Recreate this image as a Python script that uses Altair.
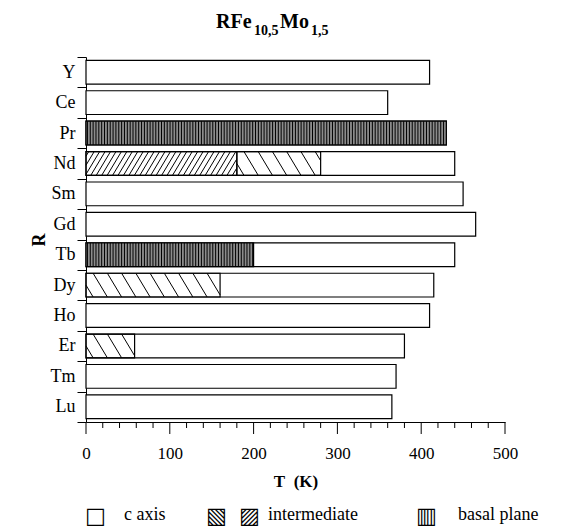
import altair as alt
import pandas as pd
import numpy as np

# ---------------- data ----------------
R_names = ["Y", "Ce", "Pr", "Nd", "Sm", "Gd", "Tb", "Dy", "Ho", "Er", "Tm", "Lu"]
T_values = [410, 360, 430, 440, 450, 465, 440, 415, 410, 380, 370, 365]

# partial segments (easy-axis type) inside the bars
seg_R = ["Pr", "Nd", "Nd", "Tb", "Dy", "Er"]
seg_start = [0, 0, 180, 0, 0, 0]
seg_end = [430, 180, 280, 200, 160, 58]
seg_kind = ["basal", "inter_fwd", "inter_back", "basal", "inter_back", "inter_back"]

x_tick_values = list(range(0, 501, 20))
x_major_values = [0, 100, 200, 300, 400, 500]

# ---------------- layout / style constants ----------------
W, H = 419, 365
HALF = 0.39          # half bar thickness in row units
SERIF = "Liberation Serif"
GLYPH = "DejaVu Sans"
# hatch style: (spacing, slant) in T units
HATCH = {"basal": (3.4, 0.0), "inter_back": (17.0, 17.0), "inter_fwd": (6.5, 17.0)}

# ---------------- tables built from the arrays ----------------
bars = pd.DataFrame({"R": R_names, "T": T_values})
bars["idx"] = range(len(R_names))
bars["top"] = bars["idx"] - HALF
bars["bot"] = bars["idx"] + HALF
bars["x0"] = 0

segs = pd.DataFrame({"R": seg_R, "a": seg_start, "b": seg_end, "kind": seg_kind})
segs["idx"] = [R_names.index(r) for r in seg_R]
segs["top"] = segs["idx"] - HALF
segs["bot"] = segs["idx"] + HALF

lines = []
for _, s in segs.iterrows():
    sp, d = HATCH[s["kind"]]
    a, b, top, bot = s["a"], s["b"], s["top"], s["bot"]
    if s["kind"] == "basal":
        for x in np.arange(a + sp / 2, b, sp):
            lines.append(dict(x1=x, x2=x, y1=top, y2=bot))
    elif s["kind"] == "inter_back":
        for x0 in np.arange(a - d + sp / 2, b, sp):
            tlo = max(0.0, (a - x0) / d)
            thi = min(1.0, (b - x0) / d)
            if thi > tlo:
                lines.append(dict(x1=x0 + d * tlo, x2=x0 + d * thi,
                                  y1=top + (bot - top) * tlo, y2=top + (bot - top) * thi))
    else:
        for x0 in np.arange(a + sp / 2, b + d, sp):
            tlo = max(0.0, (x0 - b) / d)
            thi = min(1.0, (x0 - a) / d)
            if thi > tlo:
                lines.append(dict(x1=x0 - d * tlo, x2=x0 - d * thi,
                                  y1=top + (bot - top) * tlo, y2=top + (bot - top) * thi))
hatch = pd.DataFrame(lines)
ticks = pd.DataFrame({"v": x_tick_values})
ticks["major"] = ticks["v"].isin(x_major_values)

# ---------------- scales & axes ----------------
names_js = "[" + ",".join("'" + n + "'" for n in R_names) + "]"
x_scale = alt.Scale(domain=[0, 500], nice=False, zero=False)
y_scale = alt.Scale(domain=[-0.5, len(R_names) - 0.5], reverse=True, nice=False, zero=False)

x_axis = alt.Axis(
    values=x_major_values,
    ticks=False,
    labelPadding=23, labelFontSize=17, labelFont=SERIF, labelColor="black",
    labelFlush=False,
    title="T\u00a0\u00a0(K)", titleFont=SERIF, titleFontSize=17, titleFontWeight="bold",
    titleColor="black", titleBaseline="alphabetic", titleY=64,
    grid=False, domainColor="black", domainWidth=1,
)
y_axis = alt.Axis(
    values=[i - 0.5 for i in range(len(R_names) + 1)],
    tickSize=9,
    labelExpr=names_js + "[round(datum.value + 0.5)] || ''",
    labelOffset=H / len(R_names) / 2,
    labelPadding=2, labelFontSize=18, labelFont=SERIF, labelColor="black",
    labelBaseline="middle", labelFlush=False,
    title="R", titleFont=SERIF, titleFontSize=18, titleFontWeight="bold",
    titleColor="black", titleX=-47, titleY=H / 2, titleAngle=-90,
    titleBaseline="middle", titleAlign="center",
    grid=False, domainColor="black", tickColor="black", domainWidth=1, tickWidth=1,
)

base_bars = alt.Chart(bars).mark_rect(fill="white", stroke="black", strokeWidth=1.2).encode(
    x=alt.X("x0:Q", scale=x_scale, axis=x_axis),
    x2="T:Q",
    y=alt.Y("top:Q", scale=y_scale, axis=y_axis),
    y2="bot:Q",
)

basal_fill = alt.Chart(segs).transform_filter("datum.kind === 'basal'").mark_rect(
    fill="#8c8c8c"
).encode(
    x=alt.X("a:Q", scale=x_scale, axis=x_axis), x2="b:Q",
    y=alt.Y("top:Q", scale=y_scale, axis=y_axis), y2="bot:Q",
)

hatch_lines = alt.Chart(hatch).mark_rule(color="black", strokeWidth=1).encode(
    x=alt.X("x1:Q", scale=x_scale, axis=x_axis), x2="x2:Q",
    y=alt.Y("y1:Q", scale=y_scale, axis=y_axis), y2="y2:Q",
)

outlines = alt.Chart(segs).mark_rect(fillOpacity=0, stroke="black", strokeWidth=1.2).encode(
    x=alt.X("a:Q", scale=x_scale, axis=x_axis), x2="b:Q",
    y=alt.Y("top:Q", scale=y_scale, axis=y_axis), y2="bot:Q",
)

minor_ticks = alt.Chart(ticks).transform_filter("!datum.major").mark_rule(
    color="black", strokeWidth=1
).encode(
    x=alt.X("v:Q", scale=x_scale, axis=x_axis),
    y=alt.value(H), y2=alt.value(H + 6),
)
major_ticks = alt.Chart(ticks).transform_filter("datum.major").mark_rule(
    color="black", strokeWidth=1
).encode(
    x=alt.X("v:Q", scale=x_scale, axis=x_axis),
    y=alt.value(H), y2=alt.value(H + 12),
)


def txt(s, x, y, size, weight="normal", font=SERIF):
    return alt.Chart(pd.DataFrame({"t": [s]})).mark_text(
        text=s, font=font, fontSize=size, fontWeight=weight, align="left",
        baseline="alphabetic", color="black",
    ).encode(x=alt.value(x), y=alt.value(y))


texts = [
    # title RFe10,5Mo1,5 with subscripts
    txt("RFe", 130, -29, 20, "bold"),
    txt("10,5", 168, -22, 14, "bold"),
    txt("Mo", 194, -29, 20, "bold"),
    txt("1,5", 225, -22, 14, "bold"),
    # legend
    txt("\u25a1", -1, 466, 22, font=GLYPH),
    txt("c axis", 38, 463, 18),
    txt("\u25a7", 120, 466, 22, font=GLYPH),
    txt("\u25a8", 153, 466, 22, font=GLYPH),
    txt("intermediate", 182, 463, 18),
    txt("\u25a5", 330, 466, 22, font=GLYPH),
    txt("basal plane", 372, 463, 18),
]

chart = alt.layer(
    base_bars, basal_fill, hatch_lines, outlines, minor_ticks, major_ticks, *texts
).properties(
    width=W, height=H,
    padding={"left": 86, "top": 57, "right": 563 - 86 - W, "bottom": 527 - 57 - H},
    autosize=alt.AutoSizeParams(type="none"),
    background="white",
).configure_view(stroke=None)

chart.save("out.html", embed_options={"renderer": "svg", "actions": False})
